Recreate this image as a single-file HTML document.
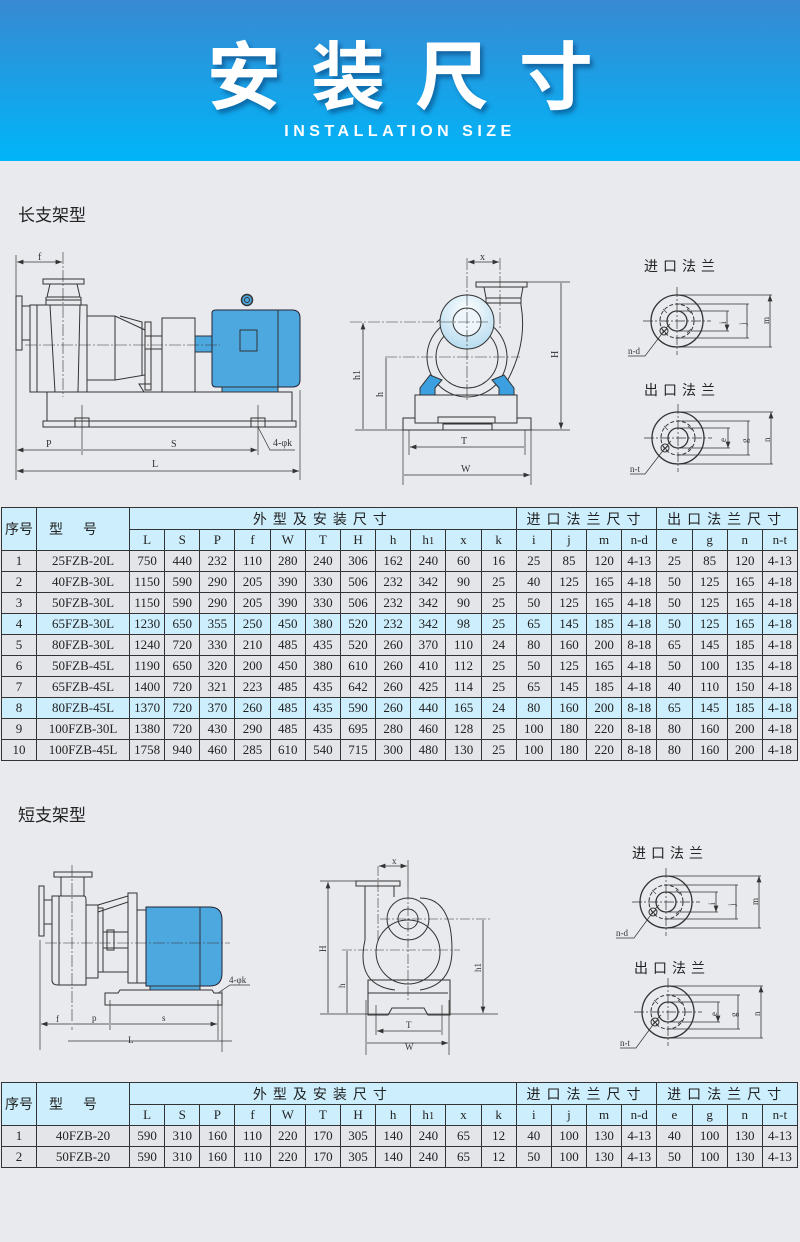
<!DOCTYPE html>
<html><head><meta charset="utf-8">
<style>
body{margin:0;width:800px;height:1242px;background:#e9eaee;position:relative;overflow:hidden;font-family:"Liberation Serif","Noto Serif CJK SC",serif;}
.hdr{position:absolute;left:0;top:0;width:800px;height:161px;background:linear-gradient(#3889d2,#00b5f8);}
.ttl{position:absolute;left:0;top:22px;width:800px;text-align:center;color:#fff;font:bold 74px "Noto Sans CJK SC",sans-serif;letter-spacing:30px;text-indent:30px;text-shadow:3px 4px 4px rgba(0,40,90,.45);line-height:100px;}
.sub{position:absolute;left:0;top:123px;width:800px;text-align:center;color:#fff;font:bold 16px "Liberation Sans",sans-serif;letter-spacing:4.5px;}
.sec{position:absolute;left:18px;font:17px "Noto Sans CJK SC",sans-serif;color:#222;}
.ft{position:absolute;font:14px "Noto Sans CJK SC",sans-serif;color:#222;letter-spacing:5px;}
table{position:absolute;left:1px;width:797px;border-collapse:collapse;table-layout:fixed;font-size:13px;color:#222;}
td{border:1px solid #333;text-align:center;padding:0;height:20px;background:#e4e5e9;white-space:nowrap;overflow:hidden;}
.h td{background:#cdeefc;}
tr.b td{background:#cdeefc;}
.cj{font-family:"Noto Sans CJK SC",sans-serif;font-size:14px;letter-spacing:6px;}
svg{position:absolute;left:0;top:0;}
</style></head><body>
<div class="hdr"></div>
<div class="ttl">安装尺寸</div>
<div class="sub">INSTALLATION SIZE</div>
<div class="sec" style="top:201px">长支架型</div>
<div class="sec" style="top:801px">短支架型</div>
<div class="ft" style="left:644px;top:256px">进口法兰</div>
<div class="ft" style="left:644px;top:380px">出口法兰</div>
<div class="ft" style="left:632px;top:843px">进口法兰</div>
<div class="ft" style="left:634px;top:958px">出口法兰</div>

<svg width="800" height="1242" viewBox="0 0 800 1242" fill="none" stroke="#333" stroke-width="1" font-family="Liberation Serif" font-size="10">
<defs>
<marker id="a" markerWidth="8" markerHeight="6" refX="8" refY="3" orient="auto-start-reverse"><path d="M0,0L8,3L0,6z" fill="#333" stroke="none"/></marker>
<radialGradient id="g" cx="50%" cy="30%" r="70%"><stop offset="0" stop-color="#fff"/><stop offset="1" stop-color="#b7dcf0"/></radialGradient>
<g id="fl">
<circle r="26" stroke-width="1.3"/>
<circle r="17" stroke-dasharray="4 2"/>
<circle r="10" stroke-width="1.3"/>
<path d="M-34,0H34M0,-34V34" stroke-dasharray="10 2 2 2" stroke-width=".7"/>
<path d="M-14,-12l4,4M10,-12l4,4M-14,12l4-4M10,12l4-4" stroke-width=".6"/>
<circle cx="-13" cy="10" r="4"/>
<path d="M-16,7l6,6M-10,7l-6,6" stroke-width=".6"/>
<path d="M-7,3l-4,4" stroke-width=".7"/>
<path d="M0,-26H95M0,26H95M0,-17H72M0,17H72M0,-10H52M0,10H52" stroke-width=".7"/>
<path d="M93,-26V26M70,-17V17M50,-10V10" marker-start="url(#a)" marker-end="url(#a)" stroke-width=".8"/>
</g>
</defs>

<!-- LONG side view -->
<g>
<rect x="16" y="296" width="6" height="54"/>
<rect x="22" y="306" width="8" height="34"/>
<rect x="30" y="305" width="57" height="87"/>
<path d="M37,305V392M50,305L55,392M80,305L78,392"/>
<rect x="43" y="279" width="41" height="5"/>
<path d="M50,284L47,297H80L77,284M46,297V305M81,297V305M46,300H81"/>
<path d="M87,316H115V380H87M115,316L145,330V375L115,380M120,316L142,322V376"/>
<rect x="145" y="322" width="6" height="68"/>
<path d="M151,338V384H139L144,392"/>
<rect x="162" y="318" width="33" height="74"/>
<path d="M145,336H162M145,349H162"/>
<rect x="195" y="336" width="18" height="16" fill="#4ea8e0"/>
<path d="M212,313Q212,310 216,310H292Q300,310 300,318V380Q300,387 292,387H216Q212,387 212,383Z" fill="#4ea8e0" stroke="#223"/>
<path d="M278,310V387"/>
<rect x="240" y="330" width="17" height="21" fill="#4ea8e0"/>
<circle cx="247" cy="300" r="5.5" fill="#4ea8e0" stroke-width="1.5"/>
<circle cx="247" cy="300" r="2.5"/>
<rect x="222" y="387" width="56" height="5" fill="#4ea8e0"/>
<rect x="47" y="392" width="245" height="29"/>
<rect x="43" y="421" width="253" height="6"/>
<rect x="75" y="418" width="14" height="9"/>
<rect x="251" y="418" width="14" height="9"/>
<path d="M25,345H220" stroke-dasharray="12 2 2 2" stroke-width=".6"/>
<path d="M63,252V397" stroke-dasharray="12 2 2 2" stroke-width=".6"/>
<path d="M16,255V480M300,390V480M82,405V455M258,405V455" stroke-width=".7"/>
<path d="M17,262H62" marker-start="url(#a)" marker-end="url(#a)" stroke-width=".8"/>
<path d="M17,450H81M83,450H257" marker-start="url(#a)" marker-end="url(#a)" stroke-width=".8"/>
<path d="M17,471H299" marker-start="url(#a)" marker-end="url(#a)" stroke-width=".8"/>
<path d="M258,427L270,450H295" stroke-width=".7"/>
<g fill="#333" stroke="none"><text x="38" y="260">f</text><text x="46" y="447">P</text><text x="171" y="447">S</text><text x="152" y="467">L</text><text x="273" y="446">4-φk</text></g>
</g>

<!-- LONG front view -->
<g>
<rect x="476" y="282" width="51" height="5"/>
<path d="M484,287L486,298H521L523,287M486,298V305M521,298V305M486,303H521"/>
<path d="M521,305Q528,345 505,385"/>
<path d="M437,322Q460,300 490,303"/>
<circle cx="467" cy="357" r="40"/>
<circle cx="467" cy="357" r="31"/>
<circle cx="467" cy="322" r="27" fill="url(#g)"/>
<circle cx="467" cy="322" r="14" fill="#eef6fb"/>
<path d="M430,375L420,388V395H435V388L442,380Z" fill="#3b9fe0"/>
<path d="M504,375L514,388V395H499V388L492,380Z" fill="#3b9fe0"/>
<rect x="415" y="395" width="102" height="28"/>
<path d="M403,430V418H415V423H438V417H495V423H517V418H531V430Z"/>
<rect x="443" y="424" width="49" height="6"/>
<path d="M467,258V400M500,258V330M350,322H490M385,357H520" stroke-dasharray="12 2 2 2" stroke-width=".6"/>
<path d="M355,430H570M527,282H570M403,425V485M531,425V485M409,430V455M525,430V455" stroke-width=".7"/>
<path d="M468,262H499" marker-start="url(#a)" marker-end="url(#a)" stroke-width=".8"/>
<path d="M363,323V429M386,358V429M561,283V429" marker-start="url(#a)" marker-end="url(#a)" stroke-width=".8"/>
<path d="M410,447H524M404,475H530" marker-start="url(#a)" marker-end="url(#a)" stroke-width=".8"/>
<g fill="#333" stroke="none"><text x="480" y="260">x</text><text x="461" y="444">T</text><text x="461" y="472">W</text>
<text transform="translate(360,380) rotate(-90)">h1</text><text transform="translate(383,397) rotate(-90)">h</text><text transform="translate(558,358) rotate(-90)">H</text></g>
</g>

<!-- flanges -->
<use href="#fl" x="677" y="321"/>
<use href="#fl" x="678" y="438"/>
<use href="#fl" x="666" y="902"/>
<use href="#fl" x="668" y="1012"/>
<g fill="#333" stroke="none" font-size="9">
<text transform="translate(769,324) rotate(-90)">m</text><text transform="translate(746,325) rotate(-90)">j</text><text transform="translate(726,324) rotate(-90)">i</text>
<text transform="translate(770,442) rotate(-90)">n</text><text transform="translate(748,443) rotate(-90)">g</text><text transform="translate(726,442) rotate(-90)">e</text>
<text transform="translate(758,905) rotate(-90)">m</text><text transform="translate(735,906) rotate(-90)">j</text><text transform="translate(715,905) rotate(-90)">i</text>
<text transform="translate(760,1016) rotate(-90)">n</text><text transform="translate(737,1017) rotate(-90)">g</text><text transform="translate(717,1016) rotate(-90)">e</text>
<text x="628" y="354">n-d</text><text x="630" y="472">n-t</text><text x="616" y="936">n-d</text><text x="620" y="1046">n-t</text>
</g>
<path d="M664,331L645,356H628M665,448L645,474H630M653,912L634,938H616M655,1022L636,1048H620" stroke-width=".7"/>

<!-- SHORT side view -->
<g>
<rect x="39" y="886" width="5" height="50"/>
<rect x="44" y="900" width="8" height="24"/>
<path d="M52,896H84Q86,896 86,900V985H58Q52,985 52,980Z"/>
<path d="M59,896V985"/>
<rect x="54" y="872" width="38" height="5"/>
<path d="M61,877V896M84,877V896"/>
<path d="M86,905H98V978H86M98,905L128,896M98,912L128,902M98,972H128"/>
<rect x="98" y="908" width="5" height="64"/>
<rect x="128" y="893" width="9" height="90"/>
<path d="M103,932H128M103,948H128"/>
<rect x="107" y="930" width="7" height="20"/>
<path d="M137,910H146V983H137"/>
<path d="M146,907H210Q222,907 222,920V973Q222,986 210,986H146Z" fill="#4ea8e0" stroke="#223"/>
<path d="M200,907V986"/>
<rect x="150" y="986" width="50" height="4" fill="#4ea8e0"/>
<path d="M105,1005V993H118L120,990H212L214,993H222V1005Z"/>
<path d="M45,943H230" stroke-dasharray="12 2 2 2" stroke-width=".6"/>
<path d="M72,865V1030" stroke-dasharray="12 2 2 2" stroke-width=".6"/>
<path d="M40,940V1050M110,1000V1030M218,1000V1040M222,990V1052" stroke-width=".7"/>
<path d="M41,1024H71M73,1024H109M111,1024H217" marker-start="url(#a)" marker-end="url(#a)" stroke-width=".8"/>
<path d="M68,1041H232" stroke-width=".7"/>
<path d="M218,993L230,985H250" stroke-width=".7"/>
<g fill="#333" stroke="none" font-size="9"><text x="56" y="1022">f</text><text x="92" y="1021">p</text><text x="162" y="1021">s</text><text x="128" y="1043">L</text><text x="229" y="983">4-φk</text></g>
</g>

<!-- SHORT front view -->
<g>
<rect x="356" y="881" width="44" height="5"/>
<path d="M365,886V940M394,886V897"/>
<circle cx="408" cy="952" r="32"/>
<circle cx="408" cy="919" r="21"/>
<circle cx="408" cy="919" r="10"/>
<path d="M420,898Q452,898 452,950Q452,985 420,990M365,940Q355,985 395,990"/>
<path d="M368,980V1015H388L392,1008H424L428,1015H450V980Z"/>
<path d="M368,993H448"/>
<path d="M380,919H490M342,950H460M408,890V1000M378,866V940" stroke-dasharray="10 2 2 2" stroke-width=".6"/>
<path d="M408,860V890M320,881H356M320,1014H498M366,1000V1055M449,1000V1055M376,1005V1035M442,1005V1035" stroke-width=".7"/>
<path d="M379,866H407" marker-start="url(#a)" marker-end="url(#a)" stroke-width=".8"/>
<path d="M328,882V1013M347,951V1013M483,920V1013" marker-start="url(#a)" marker-end="url(#a)" stroke-width=".8"/>
<path d="M377,1031H441M367,1043H448" marker-start="url(#a)" marker-end="url(#a)" stroke-width=".8"/>
<g fill="#333" stroke="none" font-size="9"><text x="392" y="864">x</text><text x="406" y="1028">T</text><text x="405" y="1050">W</text>
<text transform="translate(326,952) rotate(-90)">H</text><text transform="translate(345,988) rotate(-90)">h</text><text transform="translate(481,972) rotate(-90)">h1</text></g>
</g>
</svg>

<table style="top:507px">
<colgroup><col style="width:35px"><col style="width:93px"></colgroup>
<tr class="h" style="height:22px"><td rowspan="2" class="cj" style="letter-spacing:0">序号</td><td rowspan="2" class="cj" style="letter-spacing:20px">型号</td><td colspan="11" class="cj">外型及安装尺寸</td><td colspan="4" class="cj">进口法兰尺寸</td><td colspan="4" class="cj">出口法兰尺寸</td></tr>
<tr class="h"><td>L</td><td>S</td><td>P</td><td>f</td><td>W</td><td>T</td><td>H</td><td>h</td><td>h<small>1</small></td><td>x</td><td>k</td><td>i</td><td>j</td><td>m</td><td>n-d</td><td>e</td><td>g</td><td>n</td><td>n-t</td></tr>
<tr><td>1</td><td>25FZB-20L</td><td>750</td><td>440</td><td>232</td><td>110</td><td>280</td><td>240</td><td>306</td><td>162</td><td>240</td><td>60</td><td>16</td><td>25</td><td>85</td><td>120</td><td>4-13</td><td>25</td><td>85</td><td>120</td><td>4-13</td></tr>
<tr><td>2</td><td>40FZB-30L</td><td>1150</td><td>590</td><td>290</td><td>205</td><td>390</td><td>330</td><td>506</td><td>232</td><td>342</td><td>90</td><td>25</td><td>40</td><td>125</td><td>165</td><td>4-18</td><td>50</td><td>125</td><td>165</td><td>4-18</td></tr>
<tr><td>3</td><td>50FZB-30L</td><td>1150</td><td>590</td><td>290</td><td>205</td><td>390</td><td>330</td><td>506</td><td>232</td><td>342</td><td>90</td><td>25</td><td>50</td><td>125</td><td>165</td><td>4-18</td><td>50</td><td>125</td><td>165</td><td>4-18</td></tr>
<tr class="b"><td>4</td><td>65FZB-30L</td><td>1230</td><td>650</td><td>355</td><td>250</td><td>450</td><td>380</td><td>520</td><td>232</td><td>342</td><td>98</td><td>25</td><td>65</td><td>145</td><td>185</td><td>4-18</td><td>50</td><td>125</td><td>165</td><td>4-18</td></tr>
<tr><td>5</td><td>80FZB-30L</td><td>1240</td><td>720</td><td>330</td><td>210</td><td>485</td><td>435</td><td>520</td><td>260</td><td>370</td><td>110</td><td>24</td><td>80</td><td>160</td><td>200</td><td>8-18</td><td>65</td><td>145</td><td>185</td><td>4-18</td></tr>
<tr><td>6</td><td>50FZB-45L</td><td>1190</td><td>650</td><td>320</td><td>200</td><td>450</td><td>380</td><td>610</td><td>260</td><td>410</td><td>112</td><td>25</td><td>50</td><td>125</td><td>165</td><td>4-18</td><td>50</td><td>100</td><td>135</td><td>4-18</td></tr>
<tr><td>7</td><td>65FZB-45L</td><td>1400</td><td>720</td><td>321</td><td>223</td><td>485</td><td>435</td><td>642</td><td>260</td><td>425</td><td>114</td><td>25</td><td>65</td><td>145</td><td>185</td><td>4-18</td><td>40</td><td>110</td><td>150</td><td>4-18</td></tr>
<tr class="b"><td>8</td><td>80FZB-45L</td><td>1370</td><td>720</td><td>370</td><td>260</td><td>485</td><td>435</td><td>590</td><td>260</td><td>440</td><td>165</td><td>24</td><td>80</td><td>160</td><td>200</td><td>8-18</td><td>65</td><td>145</td><td>185</td><td>4-18</td></tr>
<tr><td>9</td><td>100FZB-30L</td><td>1380</td><td>720</td><td>430</td><td>290</td><td>485</td><td>435</td><td>695</td><td>280</td><td>460</td><td>128</td><td>25</td><td>100</td><td>180</td><td>220</td><td>8-18</td><td>80</td><td>160</td><td>200</td><td>4-18</td></tr>
<tr><td>10</td><td>100FZB-45L</td><td>1758</td><td>940</td><td>460</td><td>285</td><td>610</td><td>540</td><td>715</td><td>300</td><td>480</td><td>130</td><td>25</td><td>100</td><td>180</td><td>220</td><td>8-18</td><td>80</td><td>160</td><td>200</td><td>4-18</td></tr>
</table>

<table style="top:1082px">
<colgroup><col style="width:35px"><col style="width:93px"></colgroup>
<tr class="h" style="height:22px"><td rowspan="2" class="cj" style="letter-spacing:0">序号</td><td rowspan="2" class="cj" style="letter-spacing:20px">型号</td><td colspan="11" class="cj">外型及安装尺寸</td><td colspan="4" class="cj">进口法兰尺寸</td><td colspan="4" class="cj">进口法兰尺寸</td></tr>
<tr class="h"><td>L</td><td>S</td><td>P</td><td>f</td><td>W</td><td>T</td><td>H</td><td>h</td><td>h<small>1</small></td><td>x</td><td>k</td><td>i</td><td>j</td><td>m</td><td>n-d</td><td>e</td><td>g</td><td>n</td><td>n-t</td></tr>
<tr><td>1</td><td>40FZB-20</td><td>590</td><td>310</td><td>160</td><td>110</td><td>220</td><td>170</td><td>305</td><td>140</td><td>240</td><td>65</td><td>12</td><td>40</td><td>100</td><td>130</td><td>4-13</td><td>40</td><td>100</td><td>130</td><td>4-13</td></tr>
<tr><td>2</td><td>50FZB-20</td><td>590</td><td>310</td><td>160</td><td>110</td><td>220</td><td>170</td><td>305</td><td>140</td><td>240</td><td>65</td><td>12</td><td>50</td><td>100</td><td>130</td><td>4-13</td><td>50</td><td>100</td><td>130</td><td>4-13</td></tr>
</table>
</body></html>
